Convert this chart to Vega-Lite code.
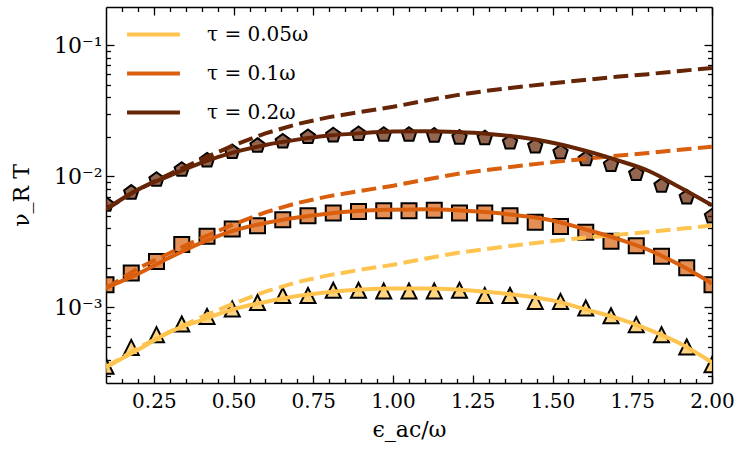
{
  "$schema": "https://vega.github.io/schema/vega-lite/v6.json",
  "width": 606,
  "height": 376,
  "autosize": {"type": "none"},
  "padding": {"left": 106, "top": 7, "right": 24, "bottom": 71},
  "background": "white",
  "config": {
    "view": {"stroke": null},
    "font": "DejaVu Serif",
    "axis": {
      "domainColor": "black",
      "domainWidth": 1.5,
      "tickColor": "black",
      "tickWidth": 1.3,
      "labelColor": "black",
      "labelFont": "DejaVu Serif",
      "labelFontSize": 20,
      "titleFont": "DejaVu Serif",
      "titleFontSize": 22,
      "titleFontWeight": "normal",
      "titleColor": "black",
      "grid": false,
      "labelFlush": false,
      "labelOverlap": false,
      "labelBound": false,
      "zindex": 2
    },
    "legend": {
      "labelFont": "DejaVu Serif",
      "labelFontSize": 20,
      "labelColor": "black"
    }
  },
  "datasets": {
    "pts": [
      {"s": "τ = 0.05ω", "x": 0.1, "y": 0.000356},
      {"s": "τ = 0.05ω", "x": 0.1792, "y": 0.000495},
      {"s": "τ = 0.05ω", "x": 0.2583, "y": 0.000619},
      {"s": "τ = 0.05ω", "x": 0.3375, "y": 0.000747},
      {"s": "τ = 0.05ω", "x": 0.4167, "y": 0.000853},
      {"s": "τ = 0.05ω", "x": 0.4958, "y": 0.000972},
      {"s": "τ = 0.05ω", "x": 0.575, "y": 0.00109},
      {"s": "τ = 0.05ω", "x": 0.6542, "y": 0.00123},
      {"s": "τ = 0.05ω", "x": 0.7333, "y": 0.00123},
      {"s": "τ = 0.05ω", "x": 0.8125, "y": 0.00135},
      {"s": "τ = 0.05ω", "x": 0.8917, "y": 0.00135},
      {"s": "τ = 0.05ω", "x": 0.9708, "y": 0.00133},
      {"s": "τ = 0.05ω", "x": 1.05, "y": 0.00133},
      {"s": "τ = 0.05ω", "x": 1.1292, "y": 0.00133},
      {"s": "τ = 0.05ω", "x": 1.2083, "y": 0.00135},
      {"s": "τ = 0.05ω", "x": 1.2875, "y": 0.00123},
      {"s": "τ = 0.05ω", "x": 1.3667, "y": 0.00123},
      {"s": "τ = 0.05ω", "x": 1.4458, "y": 0.00111},
      {"s": "τ = 0.05ω", "x": 1.525, "y": 0.00111},
      {"s": "τ = 0.05ω", "x": 1.6042, "y": 0.000989},
      {"s": "τ = 0.05ω", "x": 1.6833, "y": 0.000864},
      {"s": "τ = 0.05ω", "x": 1.7625, "y": 0.000738},
      {"s": "τ = 0.05ω", "x": 1.8417, "y": 0.000619},
      {"s": "τ = 0.05ω", "x": 1.9208, "y": 0.000499},
      {"s": "τ = 0.05ω", "x": 2.0, "y": 0.000365},
      {"s": "τ = 0.1ω", "x": 0.1, "y": 0.00149},
      {"s": "τ = 0.1ω", "x": 0.1792, "y": 0.00183},
      {"s": "τ = 0.1ω", "x": 0.2583, "y": 0.00224},
      {"s": "τ = 0.1ω", "x": 0.3375, "y": 0.00301},
      {"s": "τ = 0.1ω", "x": 0.4167, "y": 0.00348},
      {"s": "τ = 0.1ω", "x": 0.4958, "y": 0.00395},
      {"s": "τ = 0.1ω", "x": 0.575, "y": 0.00419},
      {"s": "τ = 0.1ω", "x": 0.6542, "y": 0.00466},
      {"s": "τ = 0.1ω", "x": 0.7333, "y": 0.005},
      {"s": "τ = 0.1ω", "x": 0.8125, "y": 0.00524},
      {"s": "τ = 0.1ω", "x": 0.8917, "y": 0.00537},
      {"s": "τ = 0.1ω", "x": 0.9708, "y": 0.00545},
      {"s": "τ = 0.1ω", "x": 1.05, "y": 0.00545},
      {"s": "τ = 0.1ω", "x": 1.1292, "y": 0.0055},
      {"s": "τ = 0.1ω", "x": 1.2083, "y": 0.00524},
      {"s": "τ = 0.1ω", "x": 1.2875, "y": 0.00524},
      {"s": "τ = 0.1ω", "x": 1.3667, "y": 0.005},
      {"s": "τ = 0.1ω", "x": 1.4458, "y": 0.00445},
      {"s": "τ = 0.1ω", "x": 1.525, "y": 0.00414},
      {"s": "τ = 0.1ω", "x": 1.6042, "y": 0.00373},
      {"s": "τ = 0.1ω", "x": 1.6833, "y": 0.00319},
      {"s": "τ = 0.1ω", "x": 1.7625, "y": 0.00295},
      {"s": "τ = 0.1ω", "x": 1.8417, "y": 0.00245},
      {"s": "τ = 0.1ω", "x": 1.9208, "y": 0.002},
      {"s": "τ = 0.1ω", "x": 2.0, "y": 0.00149},
      {"s": "τ = 0.2ω", "x": 0.1, "y": 0.00607},
      {"s": "τ = 0.2ω", "x": 0.1792, "y": 0.0075},
      {"s": "τ = 0.2ω", "x": 0.2583, "y": 0.0094},
      {"s": "τ = 0.2ω", "x": 0.3375, "y": 0.0112},
      {"s": "τ = 0.2ω", "x": 0.4167, "y": 0.0132},
      {"s": "τ = 0.2ω", "x": 0.4958, "y": 0.0153},
      {"s": "τ = 0.2ω", "x": 0.575, "y": 0.0171},
      {"s": "τ = 0.2ω", "x": 0.6542, "y": 0.0184},
      {"s": "τ = 0.2ω", "x": 0.7333, "y": 0.0199},
      {"s": "τ = 0.2ω", "x": 0.8125, "y": 0.0205},
      {"s": "τ = 0.2ω", "x": 0.8917, "y": 0.021},
      {"s": "τ = 0.2ω", "x": 0.9708, "y": 0.0207},
      {"s": "τ = 0.2ω", "x": 1.05, "y": 0.0207},
      {"s": "τ = 0.2ω", "x": 1.1292, "y": 0.0204},
      {"s": "τ = 0.2ω", "x": 1.2083, "y": 0.0197},
      {"s": "τ = 0.2ω", "x": 1.2875, "y": 0.0195},
      {"s": "τ = 0.2ω", "x": 1.3667, "y": 0.0181},
      {"s": "τ = 0.2ω", "x": 1.4458, "y": 0.0169},
      {"s": "τ = 0.2ω", "x": 1.525, "y": 0.0152},
      {"s": "τ = 0.2ω", "x": 1.6042, "y": 0.0135},
      {"s": "τ = 0.2ω", "x": 1.6833, "y": 0.0122},
      {"s": "τ = 0.2ω", "x": 1.7625, "y": 0.0104},
      {"s": "τ = 0.2ω", "x": 1.8417, "y": 0.00845},
      {"s": "τ = 0.2ω", "x": 1.9208, "y": 0.0069},
      {"s": "τ = 0.2ω", "x": 2.0, "y": 0.00494}
    ],
    "pert": [
      {"s": "τ = 0.05ω", "x": 0.1, "y": 0.00035},
      {"s": "τ = 0.05ω", "x": 0.2, "y": 0.00049},
      {"s": "τ = 0.05ω", "x": 0.3, "y": 0.00065},
      {"s": "τ = 0.05ω", "x": 0.4, "y": 0.000845},
      {"s": "τ = 0.05ω", "x": 0.5, "y": 0.00107},
      {"s": "τ = 0.05ω", "x": 0.6, "y": 0.00132},
      {"s": "τ = 0.05ω", "x": 0.7, "y": 0.00156},
      {"s": "τ = 0.05ω", "x": 0.8, "y": 0.00176},
      {"s": "τ = 0.05ω", "x": 0.9, "y": 0.00194},
      {"s": "τ = 0.05ω", "x": 1.0, "y": 0.00211},
      {"s": "τ = 0.05ω", "x": 1.1, "y": 0.00235},
      {"s": "τ = 0.05ω", "x": 1.2, "y": 0.0026},
      {"s": "τ = 0.05ω", "x": 1.3, "y": 0.0028},
      {"s": "τ = 0.05ω", "x": 1.4, "y": 0.003},
      {"s": "τ = 0.05ω", "x": 1.5, "y": 0.0032},
      {"s": "τ = 0.05ω", "x": 1.6, "y": 0.0034},
      {"s": "τ = 0.05ω", "x": 1.7, "y": 0.00357},
      {"s": "τ = 0.05ω", "x": 1.8, "y": 0.00375},
      {"s": "τ = 0.05ω", "x": 1.9, "y": 0.00397},
      {"s": "τ = 0.05ω", "x": 2.0, "y": 0.0042},
      {"s": "τ = 0.1ω", "x": 0.1, "y": 0.0014},
      {"s": "τ = 0.1ω", "x": 0.2, "y": 0.00198},
      {"s": "τ = 0.1ω", "x": 0.3, "y": 0.0026},
      {"s": "τ = 0.1ω", "x": 0.4, "y": 0.00338},
      {"s": "τ = 0.1ω", "x": 0.5, "y": 0.0043},
      {"s": "τ = 0.1ω", "x": 0.6, "y": 0.0053},
      {"s": "τ = 0.1ω", "x": 0.7, "y": 0.00625},
      {"s": "τ = 0.1ω", "x": 0.8, "y": 0.00705},
      {"s": "τ = 0.1ω", "x": 0.9, "y": 0.00775},
      {"s": "τ = 0.1ω", "x": 1.0, "y": 0.00845},
      {"s": "τ = 0.1ω", "x": 1.1, "y": 0.0094},
      {"s": "τ = 0.1ω", "x": 1.2, "y": 0.0104},
      {"s": "τ = 0.1ω", "x": 1.3, "y": 0.0112},
      {"s": "τ = 0.1ω", "x": 1.4, "y": 0.012},
      {"s": "τ = 0.1ω", "x": 1.5, "y": 0.0128},
      {"s": "τ = 0.1ω", "x": 1.6, "y": 0.01355},
      {"s": "τ = 0.1ω", "x": 1.7, "y": 0.0143},
      {"s": "τ = 0.1ω", "x": 1.8, "y": 0.015},
      {"s": "τ = 0.1ω", "x": 1.9, "y": 0.0159},
      {"s": "τ = 0.1ω", "x": 2.0, "y": 0.0168},
      {"s": "τ = 0.2ω", "x": 0.1, "y": 0.0056},
      {"s": "τ = 0.2ω", "x": 0.2, "y": 0.0079},
      {"s": "τ = 0.2ω", "x": 0.3, "y": 0.0104},
      {"s": "τ = 0.2ω", "x": 0.4, "y": 0.0135},
      {"s": "τ = 0.2ω", "x": 0.5, "y": 0.0172},
      {"s": "τ = 0.2ω", "x": 0.6, "y": 0.0212},
      {"s": "τ = 0.2ω", "x": 0.7, "y": 0.025},
      {"s": "τ = 0.2ω", "x": 0.8, "y": 0.0282},
      {"s": "τ = 0.2ω", "x": 0.9, "y": 0.031},
      {"s": "τ = 0.2ω", "x": 1.0, "y": 0.0338},
      {"s": "τ = 0.2ω", "x": 1.1, "y": 0.0376},
      {"s": "τ = 0.2ω", "x": 1.2, "y": 0.0415},
      {"s": "τ = 0.2ω", "x": 1.3, "y": 0.045},
      {"s": "τ = 0.2ω", "x": 1.4, "y": 0.048},
      {"s": "τ = 0.2ω", "x": 1.5, "y": 0.0512},
      {"s": "τ = 0.2ω", "x": 1.6, "y": 0.0542},
      {"s": "τ = 0.2ω", "x": 1.7, "y": 0.0572},
      {"s": "τ = 0.2ω", "x": 1.8, "y": 0.06},
      {"s": "τ = 0.2ω", "x": 1.9, "y": 0.0635},
      {"s": "τ = 0.2ω", "x": 2.0, "y": 0.0668}
    ],
    "fit": [
      {"s": "τ = 0.05ω", "x": 0.1, "y": 0.00035},
      {"s": "τ = 0.05ω", "x": 0.2, "y": 0.000475},
      {"s": "τ = 0.05ω", "x": 0.3, "y": 0.00065},
      {"s": "τ = 0.05ω", "x": 0.4, "y": 0.0008},
      {"s": "τ = 0.05ω", "x": 0.5, "y": 0.00097},
      {"s": "τ = 0.05ω", "x": 0.6, "y": 0.0011},
      {"s": "τ = 0.05ω", "x": 0.7, "y": 0.00122},
      {"s": "τ = 0.05ω", "x": 0.8, "y": 0.00131},
      {"s": "τ = 0.05ω", "x": 0.9, "y": 0.00137},
      {"s": "τ = 0.05ω", "x": 1.0, "y": 0.00139},
      {"s": "τ = 0.05ω", "x": 1.1, "y": 0.00139},
      {"s": "τ = 0.05ω", "x": 1.2, "y": 0.00137},
      {"s": "τ = 0.05ω", "x": 1.3, "y": 0.00131},
      {"s": "τ = 0.05ω", "x": 1.4, "y": 0.00123},
      {"s": "τ = 0.05ω", "x": 1.5, "y": 0.00113},
      {"s": "τ = 0.05ω", "x": 1.6, "y": 0.00097},
      {"s": "τ = 0.05ω", "x": 1.7, "y": 0.00083},
      {"s": "τ = 0.05ω", "x": 1.8, "y": 0.00068},
      {"s": "τ = 0.05ω", "x": 1.9, "y": 0.00053},
      {"s": "τ = 0.05ω", "x": 2.0, "y": 0.00038},
      {"s": "τ = 0.1ω", "x": 0.1, "y": 0.00141},
      {"s": "τ = 0.1ω", "x": 0.2, "y": 0.0018},
      {"s": "τ = 0.1ω", "x": 0.3, "y": 0.0024},
      {"s": "τ = 0.1ω", "x": 0.4, "y": 0.00312},
      {"s": "τ = 0.1ω", "x": 0.5, "y": 0.00385},
      {"s": "τ = 0.1ω", "x": 0.6, "y": 0.0044},
      {"s": "τ = 0.1ω", "x": 0.7, "y": 0.00485},
      {"s": "τ = 0.1ω", "x": 0.8, "y": 0.0052},
      {"s": "τ = 0.1ω", "x": 0.9, "y": 0.00545},
      {"s": "τ = 0.1ω", "x": 1.0, "y": 0.00555},
      {"s": "τ = 0.1ω", "x": 1.1, "y": 0.0056},
      {"s": "τ = 0.1ω", "x": 1.2, "y": 0.0055},
      {"s": "τ = 0.1ω", "x": 1.3, "y": 0.0053},
      {"s": "τ = 0.1ω", "x": 1.4, "y": 0.005},
      {"s": "τ = 0.1ω", "x": 1.5, "y": 0.0046},
      {"s": "τ = 0.1ω", "x": 1.6, "y": 0.00395},
      {"s": "τ = 0.1ω", "x": 1.7, "y": 0.00335},
      {"s": "τ = 0.1ω", "x": 1.8, "y": 0.00275},
      {"s": "τ = 0.1ω", "x": 1.9, "y": 0.0021},
      {"s": "τ = 0.1ω", "x": 2.0, "y": 0.00152},
      {"s": "τ = 0.2ω", "x": 0.1, "y": 0.0056},
      {"s": "τ = 0.2ω", "x": 0.2, "y": 0.0079},
      {"s": "τ = 0.2ω", "x": 0.3, "y": 0.0101},
      {"s": "τ = 0.2ω", "x": 0.4, "y": 0.0127},
      {"s": "τ = 0.2ω", "x": 0.5, "y": 0.0152},
      {"s": "τ = 0.2ω", "x": 0.6, "y": 0.0173},
      {"s": "τ = 0.2ω", "x": 0.7, "y": 0.019},
      {"s": "τ = 0.2ω", "x": 0.8, "y": 0.0204},
      {"s": "τ = 0.2ω", "x": 0.9, "y": 0.0213},
      {"s": "τ = 0.2ω", "x": 1.0, "y": 0.0219},
      {"s": "τ = 0.2ω", "x": 1.1, "y": 0.022},
      {"s": "τ = 0.2ω", "x": 1.2, "y": 0.0217},
      {"s": "τ = 0.2ω", "x": 1.3, "y": 0.021},
      {"s": "τ = 0.2ω", "x": 1.4, "y": 0.0198},
      {"s": "τ = 0.2ω", "x": 1.5, "y": 0.018},
      {"s": "τ = 0.2ω", "x": 1.6, "y": 0.0157},
      {"s": "τ = 0.2ω", "x": 1.7, "y": 0.0133},
      {"s": "τ = 0.2ω", "x": 1.8, "y": 0.011},
      {"s": "τ = 0.2ω", "x": 1.9, "y": 0.0082},
      {"s": "τ = 0.2ω", "x": 2.0, "y": 0.006}
    ]
  },
  "resolve": {"axis": {"x": "independent", "y": "independent"}},
  "layer": [
    {
      "data": {"name": "pts"},
      "mark": {"type": "point", "filled": true, "stroke": "black", "strokeWidth": 2, "fillOpacity": 0.7, "opacity": 1, "clip": true},
      "encoding": {
        "x": {
          "field": "x", "type": "quantitative",
          "scale": {"domain": [0.1, 2.0], "nice": false, "zero": false},
          "axis": {
            "orient": "bottom",
            "title": "ϵ_ac/ω",
            "values": [0.15, 0.2, 0.25, 0.3, 0.35, 0.4, 0.45, 0.5, 0.55, 0.6, 0.65, 0.7, 0.75, 0.8, 0.85, 0.9, 0.95, 1.0, 1.05, 1.1, 1.15, 1.2, 1.25, 1.3, 1.35, 1.4, 1.45, 1.5, 1.55, 1.6, 1.65, 1.7, 1.75, 1.8, 1.85, 1.9, 1.95, 2.0],
            "labelExpr": "abs(datum.value/0.25 - round(datum.value/0.25)) < 1e-6 ? format(datum.value, '.2f') : ''",
            "tickSize": {"condition": {"test": "abs(datum.value/0.25 - round(datum.value/0.25)) < 1e-6", "value": -8}, "value": -4.5},
            "labelPadding": 16,
            "titlePadding": 5
          }
        },
        "y": {
          "field": "y", "type": "quantitative",
          "scale": {"type": "log", "domain": [0.000265, 0.195], "nice": false},
          "axis": {
            "orient": "left",
            "title": "ν_R T",
            "values": [0.0003, 0.0004, 0.0005, 0.0006, 0.0007, 0.0008, 0.0009, 0.001, 0.002, 0.003, 0.004, 0.005, 0.006, 0.007, 0.008, 0.009, 0.01, 0.02, 0.03, 0.04, 0.05, 0.06, 0.07, 0.08, 0.09, 0.1],
            "labelExpr": "datum.value == 0.1 ? '10⁻¹' : datum.value == 0.01 ? '10⁻²' : datum.value == 0.001 ? '10⁻³' : ''",
            "tickSize": {"condition": {"test": "datum.value == 0.1 || datum.value == 0.01 || datum.value == 0.001", "value": -8}, "value": -4.5},
            "labelFontSize": 22,
            "labelPadding": 12,
            "titlePadding": 20
          }
        },
        "fill": {
          "field": "s", "type": "nominal",
          "scale": {"domain": ["τ = 0.2ω", "τ = 0.1ω", "τ = 0.05ω"], "range": ["#662506", "#d95f0e", "#fec44f"]},
          "legend": null
        },
        "shape": {
          "field": "s", "type": "nominal",
          "scale": {"domain": ["τ = 0.2ω", "τ = 0.1ω", "τ = 0.05ω"], "range": ["M0,-1L0.951,-0.309L0.588,0.809L-0.588,0.809L-0.951,-0.309Z", "square", "M0,-1L1,1L-1,1Z"]},
          "legend": null
        },
        "size": {"value": 225}
      }
    },
    {
      "data": {"name": "pert"},
      "mark": {"type": "line", "strokeWidth": 4, "strokeDash": [14.8, 6.4], "strokeCap": "butt", "clip": true},
      "encoding": {
        "x": {
          "field": "x", "type": "quantitative",
          "scale": {"domain": [0.1, 2.0], "nice": false, "zero": false},
          "axis": {
            "orient": "top",
            "title": null,
            "labels": false,
            "values": [0.15, 0.2, 0.25, 0.3, 0.35, 0.4, 0.45, 0.5, 0.55, 0.6, 0.65, 0.7, 0.75, 0.8, 0.85, 0.9, 0.95, 1.0, 1.05, 1.1, 1.15, 1.2, 1.25, 1.3, 1.35, 1.4, 1.45, 1.5, 1.55, 1.6, 1.65, 1.7, 1.75, 1.8, 1.85, 1.9, 1.95, 2.0],
            "tickSize": {"condition": {"test": "abs(datum.value/0.25 - round(datum.value/0.25)) < 1e-6", "value": -8}, "value": -4.5}
          }
        },
        "y": {
          "field": "y", "type": "quantitative",
          "scale": {"type": "log", "domain": [0.000265, 0.195], "nice": false},
          "axis": {
            "orient": "right",
            "title": null,
            "labels": false,
            "values": [0.0003, 0.0004, 0.0005, 0.0006, 0.0007, 0.0008, 0.0009, 0.001, 0.002, 0.003, 0.004, 0.005, 0.006, 0.007, 0.008, 0.009, 0.01, 0.02, 0.03, 0.04, 0.05, 0.06, 0.07, 0.08, 0.09, 0.1],
            "tickSize": {"condition": {"test": "datum.value == 0.1 || datum.value == 0.01 || datum.value == 0.001", "value": -8}, "value": -4.5}
          }
        },
        "stroke": {
          "field": "s", "type": "nominal",
          "scale": {"domain": ["τ = 0.2ω", "τ = 0.1ω", "τ = 0.05ω"], "range": ["#662506", "#d95f0e", "#fec44f"]},
          "legend": null
        },
        "detail": {"field": "s"}
      }
    },
    {
      "data": {"name": "fit"},
      "mark": {"type": "line", "strokeWidth": 4, "interpolate": "monotone", "clip": true},
      "encoding": {
        "x": {
          "field": "x", "type": "quantitative",
          "scale": {"domain": [0.1, 2.0], "nice": false, "zero": false},
          "axis": null
        },
        "y": {
          "field": "y", "type": "quantitative",
          "scale": {"type": "log", "domain": [0.000265, 0.195], "nice": false},
          "axis": null
        },
        "color": {
          "field": "s", "type": "nominal",
          "scale": {"domain": ["τ = 0.05ω", "τ = 0.1ω", "τ = 0.2ω"], "range": ["#fec44f", "#d95f0e", "#662506"]},
          "legend": {
            "title": null,
            "orient": "none",
            "legendX": 19,
            "legendY": -1,
            "padding": 0,
            "symbolType": "stroke",
            "symbolSize": 2800,
            "symbolStrokeWidth": 4,
            "rowPadding": -21,
            "labelOffset": 25
          }
        }
      }
    }
  ]
}
